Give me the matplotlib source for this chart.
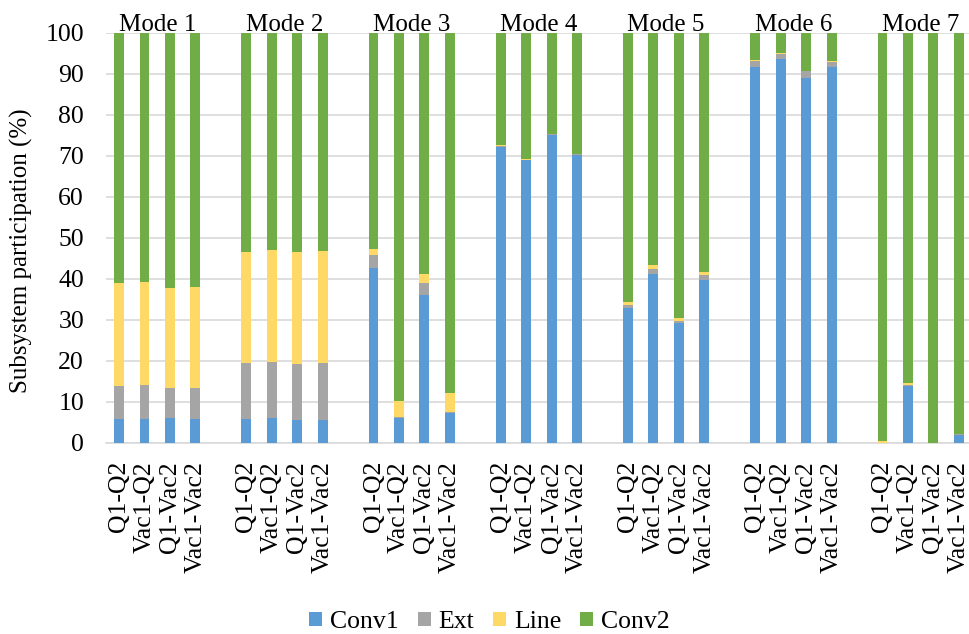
import numpy as np
import matplotlib
matplotlib.use('Agg')
import matplotlib.pyplot as plt

plt.rcParams['font.family'] = ['Liberation Serif', 'DejaVu Serif']

# Data
modes = ['Mode 1', 'Mode 2', 'Mode 3', 'Mode 4', 'Mode 5', 'Mode 6', 'Mode 7']
cases = ['Q1-Q2', 'Vac1-Q2', 'Q1-Vac2', 'Vac1-Vac2']

conv1 = [5.9, 5.9, 6.2, 5.9,
         5.9, 6.2, 5.5, 5.7,
         42.7, 6.1, 36.0, 7.3,
         72.3, 68.9, 75.0, 70.3,
         32.8, 41.2, 29.3, 39.8,
         91.8, 93.7, 89.1, 91.8,
         0.0, 14.0, 0.0, 1.9]
ext = [7.9, 8.2, 7.2, 7.5,
       13.7, 13.6, 13.8, 13.9,
       3.1, 0.2, 2.9, 0.2,
       0.2, 0.1, 0.3, 0.2,
       0.9, 1.3, 0.5, 1.2,
       1.4, 1.2, 1.6, 1.2,
       0.0, 0.2, 0.0, 0.2]
line = [25.1, 25.1, 24.4, 24.6,
        27.1, 27.2, 27.3, 27.2,
        1.5, 4.0, 2.2, 4.8,
        0.1, 0.2, 0.1, 0.1,
        0.7, 0.8, 0.6, 0.7,
        0.1, 0.1, 0.1, 0.1,
        0.4, 0.4, 0.1, 0.0]

conv1 = np.array(conv1)
ext = np.array(ext)
line = np.array(line)
conv2 = 100 - conv1 - ext - line

colors = {'Conv1': '#5B9BD5', 'Ext': '#A5A5A5', 'Line': '#FFD966', 'Conv2': '#70AD47'}

# x positions: 4 bars per mode, one empty slot between modes
n_case = len(cases)
x = np.array([m * (n_case + 1) + j for m in range(len(modes)) for j in range(n_case)])
labels = cases * len(modes)

fig = plt.figure(figsize=(9.69, 6.34), dpi=100)
ax = fig.add_axes([0.1097, 0.3013, 0.8903, 0.6467])

w = 0.39
bottom = np.zeros(len(x))
for name, vals in [('Conv1', conv1), ('Ext', ext), ('Line', line), ('Conv2', conv2)]:
    ax.bar(x, vals, w, bottom=bottom, color=colors[name], label=name, zorder=3)
    bottom += vals

ax.set_ylim(0, 100)
ax.set_xlim(-0.5, 33.4)
ax.set_yticks(np.arange(0, 101, 10))
ax.yaxis.grid(True, color='#D9D9D9', linewidth=1.2, zorder=0)
ax.set_axisbelow(True)
for s in ['top', 'right', 'left']:
    ax.spines[s].set_visible(False)
ax.spines['bottom'].set_color('#D9D9D9')
ax.spines['bottom'].set_linewidth(1.2)

ax.set_xticks(x)
ax.set_xticklabels(labels, rotation=90, fontsize=18.5)
ax.tick_params(axis='x', length=0, pad=13)
ax.tick_params(axis='y', length=0, pad=16, labelsize=18.5)
ax.set_ylabel('Subsystem participation (%)', fontsize=18)
ax.yaxis.set_label_coords(-0.085, 0.47)

for m, name in enumerate(modes):
    cx = m * (n_case + 1) + (n_case - 1) / 2
    ax.text(cx, 100.4, name, ha='center', va='baseline', fontsize=18)

fig.legend(loc='lower center', bbox_to_anchor=(0.505, -0.035), ncol=4, frameon=False,
           fontsize=18.5, handlelength=0.5, handleheight=0.5, handletextpad=0.3,
           columnspacing=0.75)

fig.savefig('out.png', dpi=100)
